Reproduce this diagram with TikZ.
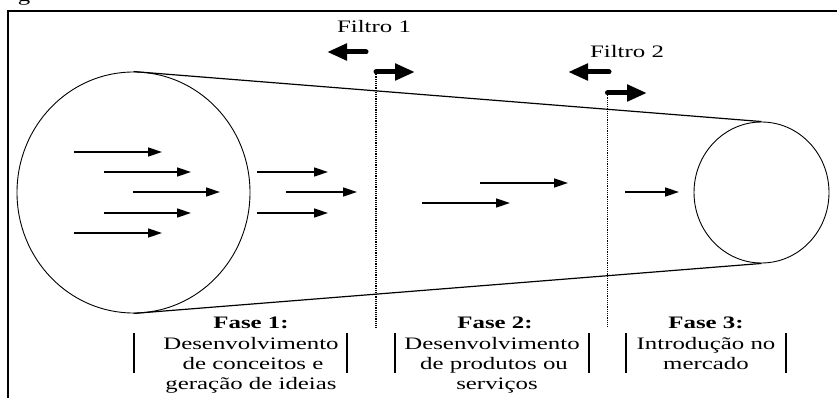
\documentclass[tikz,border=0pt]{standalone}
\usepackage{fontspec}
\setmainfont{Liberation Serif}[FakeStretch=1.42]
\usetikzlibrary{arrows.meta,shapes.geometric}
\tikzset{
  smallarr/.style={line width=1.6pt, -{Triangle[length=14pt,width=9pt]}},
  filtarr/.style={line width=5pt, line cap=round, -{Triangle[length=20pt,width=16pt]}},
  dotline/.style={line width=1.4pt, dash pattern=on 1.2pt off 1pt},
  bar/.style={line width=2pt},
  txt/.style={anchor=base, inner sep=0pt, font=\fontsize{17.5}{20}\selectfont},
  btxt/.style={txt, font=\fontsize{17.5}{20}\selectfont\bfseries},
  roundshape/.style={ellipse, draw, line width=0.9pt, inner sep=0pt}
}
\begin{document}
\begin{tikzpicture}[x=1pt,y=-1pt]
\useasboundingbox (0,0) rectangle (837,398);
% caption fragment
\node[txt] (cap) at (24,2) {g};
% frame
\draw[line width=2.5pt] (8,400) -- (8,11) -- (840,11);
% shapes
\node[roundshape, minimum width=233pt, minimum height=241pt] (big) at (133.5,192.5) {};
\node[roundshape, minimum width=135pt, minimum height=141pt] (small) at (761.5,192.5) {};
\draw[line width=1.2pt] (big.north) -- (small.north);
\draw[line width=1.2pt] (big.south) -- (small.south);
% arrows inside big circle
\draw[smallarr] (74,152) -- (162,152);
\draw[smallarr] (104,172) -- (191,172);
\draw[smallarr] (133,192) -- (220,192);
\draw[smallarr] (104,213) -- (191,213);
\draw[smallarr] (74,233) -- (162,233);
% middle arrows
\draw[smallarr] (257,172) -- (328,172);
\draw[smallarr] (286,192) -- (357,192);
\draw[smallarr] (257,213) -- (328,213);
% phase 2 arrows
\draw[smallarr] (480,183) -- (568,183);
\draw[smallarr] (422,203) -- (510,203);
% phase 3 arrow
\draw[smallarr] (625,192) -- (679,192);
% filter 1
\node[txt] (f1) at (374,33) {Filtro 1};
\coordinate (f1a) at (366,52);
\coordinate (f1b) at (327,52);
\coordinate (f1c) at (376,72);
\coordinate (f1d) at (415,72);
\coordinate (f1e) at (376,328);
\draw[filtarr] (f1a) -- (f1b);
\draw[filtarr] (f1c) -- (f1d);
\draw[dotline] (f1c) -- (f1e);
% filter 2
\node[txt] (f2) at (627,58) {Filtro 2};
\coordinate (f2a) at (609,72);
\coordinate (f2b) at (568,72);
\coordinate (f2c) at (607.5,93);
\coordinate (f2d) at (647,93);
\coordinate (f2e) at (607.5,328);
\draw[filtarr] (f2a) -- (f2b);
\draw[filtarr] (f2c) -- (f2d);
\draw[dotline] (f2c) -- (f2e);
% phase texts
\node[btxt] (p1t) at (251,328) {Fase 1:};
\node[txt] (p1a) at (251,349) {Desenvolvimento};
\node[txt] (p1b) at (253,369) {de conceitos e};
\node[txt] (p1c) at (251,389) {geração de ideias};
\node[btxt] (p2t) at (495,328) {Fase 2:};
\node[txt] (p2a) at (492,349) {Desenvolvimento};
\node[txt] (p2b) at (494,369) {de produtos ou};
\node[txt] (p2c) at (497,389) {serviços};
\node[btxt] (p3t) at (706,328) {Fase 3:};
\node[txt] (p3a) at (706,349) {Introdução no};
\node[txt] (p3b) at (706,369) {mercado};
% bars
\draw[bar] (134,333) -- (134,373);
\draw[bar] (347,333) -- (347,373);
\draw[bar] (395,333) -- (395,373);
\draw[bar] (589,333) -- (589,373);
\draw[bar] (626,333) -- (626,373);
\draw[bar] (786,333) -- (786,373);
\end{tikzpicture}
\end{document}
